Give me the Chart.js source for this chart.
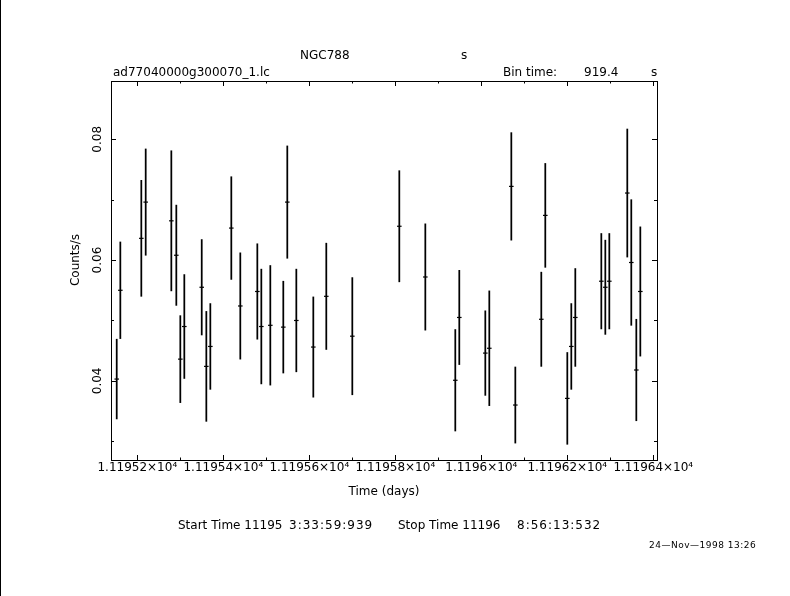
<!DOCTYPE html>
<html>
<head>
<meta charset="utf-8">
<script src="https://cdn.jsdelivr.net/npm/chart.js@4/dist/chart.umd.min.js"></script>
<style>
html,body{margin:0;padding:0;background:#fff;}
canvas{display:block;}
</style>
</head>
<body>
<canvas id="c" width="790" height="596"></canvas>
<script>
// ---- data ----
const times = [11195.1521, 11195.1605, 11195.2093, 11195.2195, 11195.2791, 11195.2907, 11195.3000, 11195.3093, 11195.3498, 11195.3605,
  11195.3698, 11195.4186, 11195.4395, 11195.4791, 11195.4884, 11195.5093, 11195.5395, 11195.5488, 11195.5698, 11195.6093,
  11195.6395, 11195.7000, 11195.8093, 11195.8698, 11195.9395, 11195.9488, 11196.0093, 11196.0186, 11196.0698, 11196.0791,
  11196.1395, 11196.1488, 11196.2000, 11196.2093, 11196.2186, 11196.2791, 11196.2884, 11196.2977, 11196.3395, 11196.3488,
  11196.3605, 11196.3698];
const rates = [0.0403, 0.0550, 0.0636, 0.0696, 0.0665, 0.0608, 0.0436, 0.0490, 0.0555, 0.0424,
  0.0457, 0.0653, 0.0524, 0.0548, 0.0490, 0.0492, 0.0489, 0.0696, 0.0500, 0.0456,
  0.0540, 0.0474, 0.0656, 0.0572, 0.0401, 0.0505, 0.0446, 0.0454, 0.0722, 0.0360,
  0.0502, 0.0674, 0.0371, 0.0457, 0.0505, 0.0565, 0.0555, 0.0565, 0.0711, 0.0596,
  0.0418, 0.0548];
const errors = [0.0066, 0.0080, 0.0096, 0.0088, 0.0116, 0.0083, 0.0072, 0.0086, 0.0079, 0.0091,
  0.0071, 0.0085, 0.0088, 0.0079, 0.0095, 0.0099, 0.0076, 0.0093, 0.0085, 0.0083,
  0.0088, 0.0097, 0.0092, 0.0088, 0.0084, 0.0078, 0.0070, 0.0095, 0.0089, 0.0063,
  0.0078, 0.0086, 0.0076, 0.0071, 0.0081, 0.0079, 0.0078, 0.0079, 0.0106, 0.0104,
  0.0084, 0.0107];
const binTimeSec = 919.4;
const xMin = 11195.1388, xMax = 11196.4086;
const yMin = 0.0269, yMax = 0.08965;

const FONT = '"DejaVu Sans", sans-serif';
const halfBin = binTimeSec / 86400 / 2;

const barData = times.map((t, i) => ({x: t, y: [rates[i] - errors[i], rates[i] + errors[i]]}));
const ptData = times.map((t, i) => ({x: t, y: rates[i]}));

function isMajorX(v){ return Math.round(v * 10) % 2 === 0; }
function isMajorY(v){ return Math.round(v * 100) % 2 === 0; }

const framePlugin = {
  id: 'frame',
  afterDraw(chart) {
    const ctx = chart.ctx, a = chart.chartArea;
    const xs = chart.scales.x, ys = chart.scales.y;
    ctx.save();
    ctx.strokeStyle = '#000';
    ctx.lineWidth = 1;
    // page left edge line
    ctx.beginPath(); ctx.moveTo(0.5, 0); ctx.lineTo(0.5, chart.height); ctx.stroke();
    // frame
    ctx.strokeRect(a.left + 0.5, a.top + 0.5, a.right - a.left, a.bottom - a.top);
    // x ticks (bottom & top, inward)
    ctx.beginPath();
    xs.ticks.forEach(t => {
      const px = Math.round(xs.getPixelForValue(t.value)) + 0.5;
      const len = isMajorX(t.value) ? 5 : 2.5;
      ctx.moveTo(px, a.bottom); ctx.lineTo(px, a.bottom - len);
      ctx.moveTo(px, a.top); ctx.lineTo(px, a.top + len);
    });
    // y ticks (left & right, inward)
    ys.ticks.forEach(t => {
      const py = Math.round(ys.getPixelForValue(t.value)) + 0.5;
      const len = isMajorY(t.value) ? 5 : 3;
      ctx.moveTo(a.left, py); ctx.lineTo(a.left + len, py);
      ctx.moveTo(a.right, py); ctx.lineTo(a.right - len, py);
    });
    ctx.stroke();
    // y tick labels, rotated
    ctx.fillStyle = '#000';
    ctx.font = '12px ' + FONT;
    ctx.textAlign = 'center';
    ctx.textBaseline = 'middle';
    ys.ticks.forEach(t => {
      if (!isMajorY(t.value)) return;
      const py = ys.getPixelForValue(t.value);
      ctx.save(); ctx.translate(98, py); ctx.rotate(-Math.PI / 2);
      ctx.fillText(t.value.toFixed(2), 0, 0);
      ctx.restore();
    });
    // axis titles
    ctx.save(); ctx.translate(76, 260); ctx.rotate(-Math.PI / 2);
    ctx.fillText('Counts/s', 0, 0); ctx.restore();
    ctx.textBaseline = 'alphabetic';
    ctx.fillText('Time (days)', 384, 495);
    // header texts
    ctx.textAlign = 'left';
    ctx.fillText('NGC788', 300, 59);
    ctx.fillText('s', 461, 59);
    ctx.fillText('ad77040000g300070_1.lc', 113, 76);
    ctx.fillText('Bin time:', 503, 76);
    ctx.fillText('919.4', 584, 76);
    ctx.fillText('s', 651, 76);
    // footer
    ctx.fillText('Start Time 11195', 178, 529);
    ctx.fillText('Stop Time 11196', 398, 529);
    ctx.letterSpacing = '1px';
    ctx.fillText('3:33:59:939', 289, 529);
    ctx.fillText('8:56:13:532', 517, 529);
    ctx.letterSpacing = '0.5px';
    ctx.font = '9px ' + FONT;
    ctx.fillText('24\u2014Nov\u20141998 13:26', 649, 548);
    ctx.letterSpacing = '0px';
    ctx.restore();
  }
};

new Chart(document.getElementById('c'), {
  type: 'bar',
  data: {
    datasets: [
      {
        type: 'bar',
        label: 'error',
        data: barData,
        backgroundColor: '#000',
        borderWidth: 0,
        barThickness: 1.1,
        grouped: false
      },
      {
        type: 'scatter',
        label: 'rate',
        data: ptData,
        showLine: false,
        pointStyle: 'line',
        pointBorderColor: '#000',
        pointBackgroundColor: '#000',
        pointBorderWidth: 1.2,
        pointHoverRadius: 0,
        pointRadius: (c) => {
          const s = c.chart.scales.x;
          if (!s || !c.raw) return 2.3;
          return (s.getPixelForValue(c.raw.x + halfBin) - s.getPixelForValue(c.raw.x - halfBin)) / 2;
        }
      }
    ]
  },
  options: {
    responsive: false,
    devicePixelRatio: 1,
    animation: false,
    events: [],
    layout: {padding: {top: 81, right: 133, left: 0, bottom: 0}},
    plugins: {legend: {display: false}, tooltip: {enabled: false}, title: {display: false}},
    scales: {
      x: {
        type: 'linear',
        min: xMin, max: xMax,
        offset: false,
        grid: {display: false, drawTicks: false},
        border: {display: false},
        afterFit: (s) => { s.height = 136; },
        ticks: {
          stepSize: 0.1,
          includeBounds: false,
          autoSkip: false,
          maxRotation: 0, minRotation: 0,
          padding: 1,
          color: '#000',
          font: {family: FONT, size: 12},
          callback: (v) => isMajorX(v) ? parseFloat((v / 1e4).toFixed(6)).toString() + '\u00d710\u2074' : ''
        }
      },
      y: {
        type: 'linear',
        min: yMin, max: yMax,
        grid: {display: false, drawTicks: false},
        border: {display: false},
        afterFit: (s) => { s.width = 111; },
        ticks: {display: false, stepSize: 0.01, includeBounds: false}
      }
    }
  },
  plugins: [framePlugin]
});
</script>
</body>
</html>
